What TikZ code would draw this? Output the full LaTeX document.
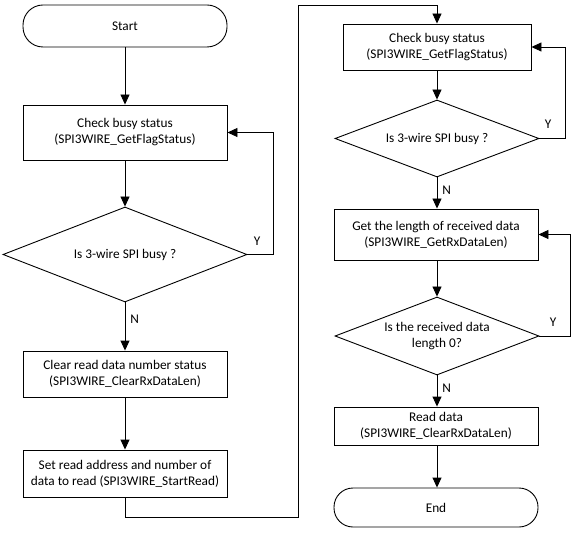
\documentclass[tikz,border=0pt]{standalone}
\usepackage{fontspec}
\setmainfont{Carlito}
\usetikzlibrary{shapes.geometric,arrows.meta}
\begin{document}
\begin{tikzpicture}[x=1pt,y=-1pt,
  every node/.style={font=\fontsize{13.3}{16}\selectfont, align=center},
  proc/.style={draw, line width=0.9pt, rectangle, inner sep=0pt},
  term/.style={draw, line width=0.9pt, rectangle, rounded corners=20pt, inner sep=0pt},
  dec/.style={draw, line width=0.9pt, diamond, aspect=3, inner sep=0pt},
  flow/.style={line width=0.9pt, -{Triangle[length=10pt,width=9pt]}},
  lbl/.style={inner sep=1pt}
]
\useasboundingbox (0,0) rectangle (575,534);
\fill[white] (0,0) rectangle (575,534);

% left column
\node[term, minimum width=204pt, minimum height=42pt] (start) at (125,26) {Start};
\node[proc, minimum width=204pt, minimum height=55pt] (b1) at (125,132.5) {Check busy status\\(SPI3WIRE\_GetFlagStatus)};
\node[dec, minimum width=244pt, minimum height=95pt] (d1) at (125,254.5) {Is 3-wire SPI busy ?};
\node[proc, minimum width=204pt, minimum height=46pt] (b2) at (125,374) {Clear read data number status\\(SPI3WIRE\_ClearRxDataLen)};
\node[proc, minimum width=204pt, minimum height=47pt] (b3) at (125,473.5) {Set read address and number of\\data to read (SPI3WIRE\_StartRead)};

% right column
\node[proc, minimum width=188pt, minimum height=46pt] (b4) at (437,47) {Check busy status\\(SPI3WIRE\_GetFlagStatus)};
\node[dec, minimum width=204pt, minimum height=77pt] (d2) at (437,138.5) {Is 3-wire SPI busy ?};
\node[proc, minimum width=204pt, minimum height=51pt] (b5) at (436,234.5) {Get the length of received data\\(SPI3WIRE\_GetRxDataLen)};
\node[dec, minimum width=204pt, minimum height=78pt] (d3) at (437,336) {Is the received data\\length 0?};
\node[proc, minimum width=204pt, minimum height=38pt] (b6) at (436,426) {Read data\\(SPI3WIRE\_ClearRxDataLen)};
\node[term, minimum width=204pt, minimum height=39pt, rounded corners=19pt] (end) at (436,507.5) {End};

\coordinate (c1) at (125,517);
\coordinate (c2) at (298,517);
\coordinate (c3) at (298,5);
\coordinate (c4) at (437,5);
\coordinate (y1) at (273,254.5);
\coordinate (y2) at (565,138.5);
\coordinate (y3) at (570,336);

% connectors
\draw[flow] (start) -- (b1);
\draw[flow] (b1) -- (d1);
\draw[flow] (d1) -- node[lbl, right=4pt, pos=0.35] {N} (b2);
\draw[flow] (b2) -- (b3);
\draw[flow] (d1.east) -- (y1) |- (b1.east);
\node[lbl] (ly1) at (257,241) {Y};
\draw[flow] (b3.south) -- (c1) -- (c2) -- (c3) -- (c4) -- (b4.north);

\draw[flow] (b4.south -| d2.north) -- (d2.north);
\draw[flow] (d2.east) -- (y2) |- (b4.east);
\node[lbl] (ly2) at (548,124) {Y};
\draw[flow] (d2.south) -- node[lbl, right=4pt, pos=0.4] {N} (d2.south |- b5.north);
\draw[flow] (b5.south -| d3.north) -- (d3.north);
\draw[flow] (d3.east) -- (y3) |- (b5.east);
\node[lbl] (ly3) at (553,322) {Y};
\draw[flow] (d3.south) -- node[lbl, right=4pt, pos=0.4] {N} (d3.south |- b6.north);
\draw[flow] (b6.south -| d3.south) -- (d3.south |- end.north);
\end{tikzpicture}
\end{document}
